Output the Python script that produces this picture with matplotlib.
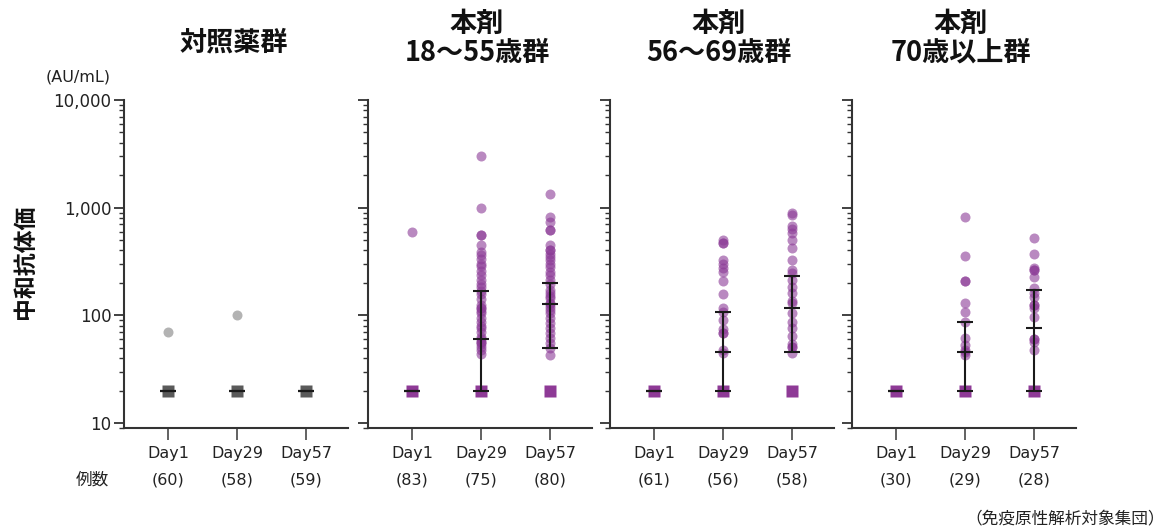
import numpy as np
import matplotlib
matplotlib.use("Agg")
import matplotlib.pyplot as plt
from matplotlib.ticker import FixedLocator, LogLocator, NullFormatter

plt.rcParams['font.family'] = ['DejaVu Sans', 'Noto Sans CJK JP']
cjk = ['Noto Sans CJK JP', 'DejaVu Sans']

# データ
days = ["Day1", "Day29", "Day57"]
titles = ["対照薬群", "本剤\n18〜55歳群", "本剤\n56〜69歳群", "本剤\n70歳以上群"]
counts = [[60, 58, 59], [83, 75, 80], [61, 56, 58], [30, 29, 28]]
lloq = 20

# 各群・各時点の個別値(LLOQ超のみ)
ctrl_pts = [[70], [100], []]
g1855_pts = [
    [590],
    [3040, 990, 560, 560, 450, 390, 360, 330, 300, 285, 260, 237, 215, 195, 185, 170,
     158, 141, 125, 116, 116, 110, 104, 95, 87, 80, 76, 70, 63, 60, 57, 57, 54, 51, 48, 44],
    [1330, 820, 740, 620, 620, 450, 400, 400, 370, 350, 325, 300, 280, 255, 235, 213,
     195, 172, 160, 150, 144, 130, 127, 120, 112, 104, 95, 84, 76, 68, 62, 55, 50, 43],
]
g5669_pts = [
    [],
    [500, 473, 473, 327, 300, 274, 254, 210, 157, 116, 108, 91, 74, 69, 69, 48, 45],
    [900, 855, 676, 630, 586, 500, 419, 327, 264, 249, 213, 182, 160, 137, 129, 104,
     86, 76, 64, 54, 51, 51, 45],
]
g70_pts = [
    [],
    [824, 358, 210, 210, 131, 108, 87, 62, 53, 48, 46, 43],
    [522, 369, 274, 264, 264, 226, 181, 160, 147, 125, 125, 116, 97, 60, 60, 57, 48],
]
all_pts = [ctrl_pts, g1855_pts, g5669_pts, g70_pts]

# 下限値(20)の該当者あり
has_lloq = [[True, True, True], [True, True, True], [True, True, True], [True, True, True]]

# 中央値と四分位範囲 (下, 中, 上)
stats = [
    [(20, 20, 20), (20, 20, 20), (20, 20, 20)],
    [(20, 20, 20), (20, 60, 169), (50, 127, 201)],
    [(20, 20, 20), (20, 46, 107), (46, 118, 232)],
    [(20, 20, 20), (20, 46, 87), (20, 77, 172)],
]

W, H = 1170, 532
fig = plt.figure(figsize=(W / 100, H / 100), dpi=100)

lefts = [124, 368, 610, 852]
ax_w, ax_top, ax_bot = 224, 100, 428

purple = '#8b3a96'
for i, left in enumerate(lefts):
    ax = fig.add_axes([left / W, 1 - ax_bot / H, ax_w / W, (ax_bot - ax_top) / H])
    ax.set_yscale('log')
    ax.set_ylim(8.98, 10000)
    ax.set_xlim(-0.64, 2.61)
    ctrl = i == 0
    c_pt = '#b3b3b3' if ctrl else purple
    a_pt = 1.0 if ctrl else 0.6
    c_sq = '#5a5a5a' if ctrl else '#8e3a96'
    for j in range(3):
        pts = all_pts[i][j]
        if pts:
            ax.plot([j] * len(pts), pts, 'o', ms=7.2, color=c_pt, alpha=a_pt, mec='none', zorder=2)
        if has_lloq[i][j]:
            ax.plot([j], [lloq], 's', ms=8, color=c_sq, mec='none', zorder=3)
        lo, mid, hi = stats[i][j]
        ax.vlines(j, lo, hi, color='#1a1a1a', lw=1.5, zorder=4)
        ax.plot([j, j, j], [lo, mid, hi], '_', ms=11, mew=1.5, color='#1a1a1a', zorder=4)
        ax.text(j, -0.158, f"({counts[i][j]})", transform=ax.get_xaxis_transform(),
                ha='center', va='center', fontsize=11.5, color='#222222')
    for s in ['top', 'right']:
        ax.spines[s].set_visible(False)
    for s in ['left', 'bottom']:
        ax.spines[s].set_color('#333333')
        ax.spines[s].set_linewidth(1.5)
    ax.yaxis.set_major_locator(FixedLocator([10, 100, 1000, 10000]))
    ax.yaxis.set_minor_locator(LogLocator(base=10, subs=np.arange(2, 10)))
    ax.yaxis.set_minor_formatter(NullFormatter())
    if ctrl:
        ax.set_yticklabels(["10", "100", "1,000", "10,000"], fontsize=12, color='#222222')
    else:
        ax.set_yticklabels([])
    ax.tick_params(axis='y', which='major', length=7.5, width=1.3, color='#333333', pad=1.5)
    ax.tick_params(axis='y', which='minor', length=3.8, width=1.0, color='#333333')
    ax.set_xticks(range(3))
    ax.set_xticklabels(days, fontsize=11.5, color='#222222')
    ax.tick_params(axis='x', length=8.5, width=1.3, color='#555555', pad=4.5)

    cx = (left + ax_w / 2) / W
    if ctrl:
        fig.text(cx - 2 / W, 1 - 42 / H, titles[i], ha='center', va='center', family=cjk,
                 fontsize=19.5, fontweight='bold', color='#111111')
    else:
        fig.text(cx - 3 / W, 1 - 38 / H, titles[i], ha='center', va='center', family=cjk,
                 fontsize=19.5, fontweight='bold', color='#111111', linespacing=1.05)

fig.text(25 / W, 1 - 262 / H, "中和抗体価", rotation=90, ha='center', va='center', family=cjk,
         fontsize=16.5, fontweight='bold', color='#111111')
fig.text(78 / W, 1 - 77 / H, "(AU/mL)", ha='center', va='center', fontsize=11.5, color='#222222')
fig.text(92 / W, 1 - 480 / H, "例数", ha='center', va='center', family=cjk,
         fontsize=12, color='#222222')
fig.text(1165 / W, 1 - 519 / H, "（免疫原性解析対象集団）", ha='right', va='center', family=cjk,
         fontsize=12, color='#222222')

fig.savefig("out.png", dpi=100)
